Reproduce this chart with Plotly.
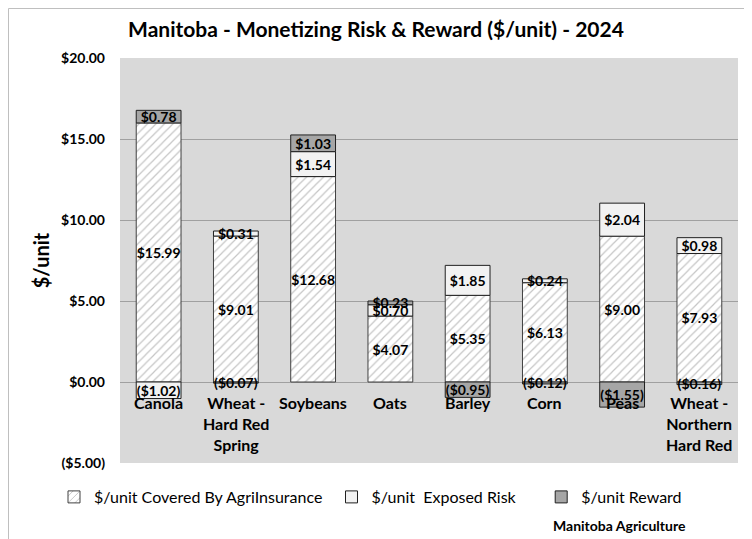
import plotly.graph_objects as go

# data
crops = ['Canola', 'Wheat - Hard Red Spring', 'Soybeans', 'Oats', 'Barley', 'Corn', 'Peas',
         'Wheat - Northern Hard Red']
crop_labels = ['Canola', 'Wheat -<br>Hard Red<br>Spring', 'Soybeans', 'Oats', 'Barley', 'Corn', 'Peas',
               'Wheat -<br>Northern<br>Hard Red']
covered = [15.99, 9.01, 12.68, 4.07, 5.35, 6.13, 9.00, 7.93]
exposed = [-1.02, 0.31, 1.54, 0.70, 1.85, 0.24, 2.04, 0.98]
reward = [0.78, -0.07, 1.03, 0.23, -0.95, -0.12, -1.55, -0.16]
y_ticks = [-5, 0, 5, 10, 15, 20]

FONT = 'Lato'
NBSP = '\u00a0'
# the page body has an 8px margin, so the figure is a bit smaller than the window
W, H = 744, 531
L, R, T, B = 112, 14, 50, 76
pw, ph = W - L - R, H - T - B


def money(v):
    s = '${:,.2f}'.format(abs(v))
    return '(' + s + ')' if v < 0 else s


def px_x(x):  # figure pixel -> paper x
    return (x - L) / pw


def px_y(y):  # figure pixel -> paper y
    return (H - B - y) / ph


fig = go.Figure()
fig.add_trace(go.Bar(
    x=crops, y=covered, name='$/unit Covered By AgriInsurance' + NBSP,
    marker=dict(color='white', line=dict(color='#404040', width=1),
                pattern=dict(shape='/', fgcolor='#8c8c8c', bgcolor='white', size=6, solidity=0.2)),
    text=[money(v) for v in covered]))
fig.add_trace(go.Bar(
    x=crops, y=exposed, name='$/unit  Exposed Risk' + NBSP * 5,
    marker=dict(color='#f2f2f2', line=dict(color='#202020', width=1)),
    text=[money(v) for v in exposed]))
fig.add_trace(go.Bar(
    x=crops, y=reward, name='$/unit Reward',
    marker=dict(color='#a6a6a6', line=dict(color='#202020', width=1)),
    text=[money(v) for v in reward]))

fig.update_traces(textposition='inside', insidetextanchor='middle', textangle=0,
                  constraintext='none', cliponaxis=False,
                  textfont=dict(family=FONT, size=14, color='black', weight='bold'))

# category labels sit just under the zero line
for c, lab in zip(crops, crop_labels):
    fig.add_annotation(x=c, y=0, text=lab, showarrow=False, yanchor='top', yshift=-9,
                       font=dict(family=FONT, size=16, color='black', weight='bold'))

fig.add_annotation(xref='paper', yref='paper', x=px_x(680), y=px_y(517),
                   text='Manitoba Agriculture', showarrow=False, xanchor='right', yanchor='middle',
                   font=dict(family=FONT, size=14, color='black', weight='bold'))

# outer chart frame (left and top edges)
fig.add_shape(type='line', xref='paper', yref='paper', x0=px_x(0.5), x1=px_x(0.5), y0=px_y(H), y1=px_y(0.5),
              line=dict(color='#bfbfbf', width=1))
fig.add_shape(type='line', xref='paper', yref='paper', x0=px_x(0.5), x1=px_x(W), y0=px_y(0.5), y1=px_y(0.5),
              line=dict(color='#bfbfbf', width=1))

fig.update_layout(
    barmode='relative', bargap=0.42,
    width=W, height=H,
    margin=dict(l=L, r=R, t=T, b=B),
    paper_bgcolor='white', plot_bgcolor='#d9d9d9',
    font=dict(family=FONT, color='black'),
    uniformtext=dict(minsize=14, mode='show'),
    title=dict(text='Manitoba - Monetizing Risk & Reward ($/unit) - 2024', x=368 / W, xref='container',
               xanchor='center', y=1 - 22 / H, yanchor='middle',
               font=dict(family=FONT, size=21, color='black', weight='bold')),
    xaxis=dict(showticklabels=False, showgrid=False, zeroline=False, fixedrange=True),
    yaxis=dict(range=[-5, 20], tickvals=y_ticks, ticktext=[money(v) for v in y_ticks],
               showgrid=True, gridcolor='#a0a0a0', gridwidth=1, zeroline=True,
               zerolinecolor='#a0a0a0', zerolinewidth=1, ticks='', ticklabelstandoff=14,
               tickfont=dict(family=FONT, size=14, color='black', weight='bold'),
               title=dict(text='$/unit', standoff=6,
                          font=dict(family=FONT, size=20, color='black', weight='bold'))),
    legend=dict(orientation='h', x=px_x(46), xanchor='left', y=px_y(489),
                yanchor='middle', traceorder='normal',
                font=dict(family=FONT, size=16, color='black'), bgcolor='rgba(0,0,0,0)'),
    showlegend=True,
)

fig.write_html('out.html')
